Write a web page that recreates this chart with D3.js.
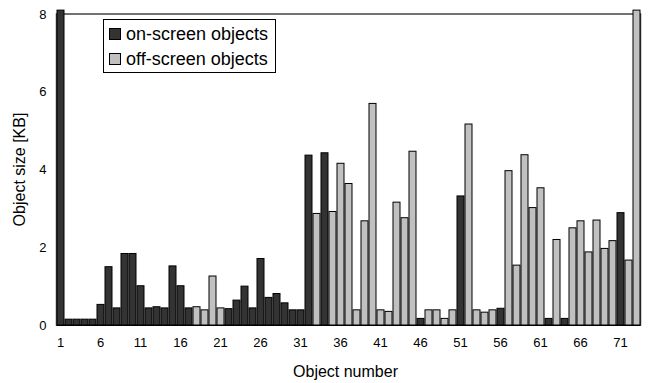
<!DOCTYPE html>
<html>
<head>
<meta charset="utf-8">
<script src="https://cdn.jsdelivr.net/npm/d3@7"></script>
<style>
  html, body { margin: 0; padding: 0; background: #fff; }
  text { font-family: "Liberation Sans", Arial, sans-serif; }
</style>
</head>
<body>
<svg id="chart" width="651" height="383"></svg>
<script>
// Object numbers 1..73
const objects = d3.range(1, 74);
// Object sizes [KB] (bars 1 and 73 run past the top of the axis)
const sizes = [
  8.1, 0.15, 0.15, 0.15, 0.15, 0.53, 1.50, 0.44, 1.84, 1.84,
  1.01, 0.44, 0.47, 0.44, 1.52, 1.01, 0.44, 0.47, 0.39, 1.26,
  0.44, 0.42, 0.64, 1.00, 0.44, 1.71, 0.71, 0.81, 0.57, 0.39,
  0.39, 4.37, 2.87, 4.43, 2.92, 4.16, 3.64, 0.39, 2.68, 5.70,
  0.39, 0.35, 3.16, 2.76, 4.47, 0.17, 0.39, 0.39, 0.17, 0.39,
  3.32, 5.17, 0.39, 0.33, 0.39, 0.43, 3.97, 1.54, 4.38, 3.02,
  3.53, 0.17, 2.20, 0.17, 2.50, 2.68, 1.88, 2.70, 1.97, 2.17,
  2.89, 1.67, 8.1
];
// Visibility class of each object: "on" = on-screen, "off" = off-screen
const visibility = [
  "on","on","on","on","on","on","on","on","on","on",
  "on","on","on","on","on","on","on","off","off","off",
  "off","on","on","on","on","on","on","on","on","on",
  "on","on","off","on","off","off","off","off","off","off",
  "off","off","off","off","off","on","off","off","off","off",
  "on","off","off","off","off","on","off","off","off","off",
  "off","on","off","on","off","off","off","off","off","off",
  "on","off","off"
];
const seriesNames = ["on-screen objects", "off-screen objects"];
const seriesKeys = ["on", "off"];
const yTicks = [0, 2, 4, 6, 8];
const xTickLabels = [1, 6, 11, 16, 21, 26, 31, 36, 41, 46, 51, 56, 61, 66, 71];

const colors = { on: "#333333", off: "#c0c0c0" };

const svg = d3.select("#chart");
const plot = { left: 56.5, right: 640.5, top: 14, bottom: 325 };

const x = d3.scaleBand().domain(objects).range([plot.left, plot.right]).padding(0);
const y = d3.scaleLinear().domain([0, 8]).range([plot.bottom, plot.top]);

// plot frame
svg.append("rect")
  .attr("x", plot.left).attr("y", plot.top)
  .attr("width", plot.right - plot.left).attr("height", plot.bottom - plot.top)
  .attr("fill", "none").attr("stroke", "#444").attr("stroke-width", 1.5);

// bars
const data = objects.map((o, i) => ({ o, v: sizes[i], k: visibility[i] }));
svg.append("g").selectAll("rect").data(data).join("rect")
  .attr("x", d => x(d.o) + 0.5)
  .attr("width", x.bandwidth() - 1)
  .attr("y", d => y(d.v))
  .attr("height", d => y(0) - y(d.v))
  .attr("fill", d => colors[d.k])
  .attr("stroke", "#000")
  .attr("stroke-width", 1);

// baseline
svg.append("line")
  .attr("x1", plot.left).attr("x2", plot.right)
  .attr("y1", plot.bottom + 0.5).attr("y2", plot.bottom + 0.5)
  .attr("stroke", "#000").attr("stroke-width", 1);

// y axis labels
const yAxis = d3.axisLeft(y).tickValues(yTicks).tickSize(0).tickPadding(10).tickFormat(d3.format("d"));
const gy = svg.append("g").attr("transform", `translate(${plot.left},0)`).call(yAxis);
gy.select(".domain").remove();
gy.selectAll("text").attr("font-size", 13).attr("fill", "#000")
  .attr("font-family", "'Liberation Sans', Arial, sans-serif");

// x axis labels
const xAxis = d3.axisBottom(x).tickValues(xTickLabels).tickSize(0).tickPadding(13);
const gx = svg.append("g").attr("transform", `translate(0,${plot.bottom})`).call(xAxis);
gx.select(".domain").remove();
gx.selectAll("text").attr("font-size", 13).attr("fill", "#000")
  .attr("font-family", "'Liberation Sans', Arial, sans-serif");

// axis titles
svg.append("text")
  .attr("x", (plot.left + plot.right) / 2 - 3).attr("y", 377)
  .attr("text-anchor", "middle").attr("font-size", 16).text("Object number");
svg.append("text")
  .attr("transform", `translate(25,${(plot.top + plot.bottom) / 2}) rotate(-90)`)
  .attr("text-anchor", "middle").attr("font-size", 16).text("Object size [KB]");

// legend
const lg = svg.append("g");
lg.append("rect").attr("x", 103.5).attr("y", 19.5).attr("width", 172).attr("height", 53)
  .attr("fill", "#fff").attr("stroke", "#000").attr("stroke-width", 1);
seriesKeys.forEach((k, i) => {
  lg.append("rect").attr("x", 109.5).attr("y", 28.5 + i * 25).attr("width", 11).attr("height", 11)
    .attr("fill", colors[k]).attr("stroke", "#000").attr("stroke-width", 1);
  lg.append("text").attr("x", 126).attr("y", 40 + i * 25).attr("font-size", 18).text(seriesNames[i]);
});
</script>
</body>
</html>
